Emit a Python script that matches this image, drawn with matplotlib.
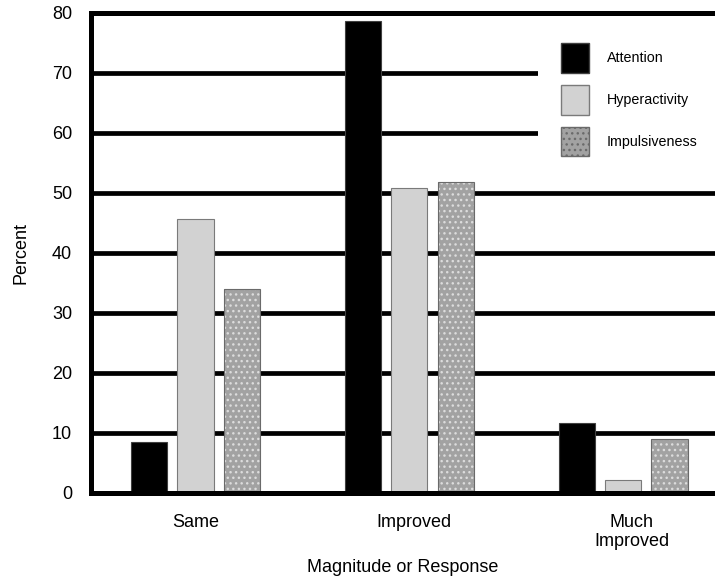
import numpy as np
import matplotlib.pyplot as plt
from matplotlib.patches import Patch, Rectangle

plt.rcParams['font.family'] = ['Liberation Sans', 'DejaVu Sans']

categories = ['Same', 'Improved', 'Much\nImproved']
series = ['Attention', 'Hyperactivity', 'Impulsiveness']
attention = [8.5, 78.7, 11.7]
hyperactivity = [45.7, 50.8, 2.2]
impulsiveness = [34.0, 51.8, 9.0]
yticks = [0, 10, 20, 30, 40, 50, 60, 70, 80]

fig = plt.figure(figsize=(7.15, 5.81), dpi=100)
ax = fig.add_axes([0.127, 0.1515, 0.873, 0.8265])

x = np.arange(len(categories))
w = 0.17
off = 0.217

# thick horizontal rules behind the bars
for t in yticks[1:]:
    ax.axhline(t, color='black', lw=3.4, zorder=1)

# white block behind the legend hides the rules at 60 and 70
ax.add_patch(Rectangle((538 / 715, 1 - 172 / 581), 1 - 538 / 715, 150 / 581,
                       transform=fig.transFigure, facecolor='white', edgecolor='none', zorder=2))

ax.bar(x - off, attention, w, color='black', edgecolor='#404040', lw=0.8, zorder=3)
ax.bar(x, hyperactivity, w, color='#d2d2d2', edgecolor='#7a7a7a', lw=0.8, zorder=3)
# speckled texture for impulsiveness
plt.rcParams['hatch.linewidth'] = 1.0
ax.bar(x + off, impulsiveness, w, color='#a2a2a2', edgecolor='#dcdcdc', hatch='...', lw=0, zorder=3)
ax.bar(x + off, impulsiveness, w, fill=False, edgecolor='#6a6a6a', lw=0.8, zorder=4)

ax.set_xlim(-0.49, 2.43)
ax.set_ylim(0, 80)
ax.set_yticks(yticks)
ax.set_xticks([0, 1.02, 2.04])
ax.set_xticklabels(categories, fontsize=13)
ax.tick_params(axis='y', length=0, pad=13.5, labelsize=13)
ax.tick_params(axis='x', length=0, pad=15)

for s in ['left', 'bottom', 'top']:
    ax.spines[s].set_linewidth(3.6)
    ax.spines[s].set_zorder(5)
ax.spines['right'].set_visible(False)

ax.set_ylabel('Percent', fontsize=13, labelpad=16)
ax.set_xlabel('Magnitude or Response', fontsize=13, labelpad=6)

handles = [
    Patch(facecolor='black', edgecolor='#404040', label='Attention'),
    Patch(facecolor='#d2d2d2', edgecolor='#7a7a7a', label='Hyperactivity'),
    Patch(facecolor='#a2a2a2', edgecolor='#6a6a6a', hatch='...', label='Impulsiveness'),
]
leg = ax.legend(handles=handles, loc='upper left', bbox_to_anchor=(540 / 715, 1 - 22 / 581),
                bbox_transform=fig.transFigure, fontsize=10.3, frameon=False,
                borderpad=1.5, borderaxespad=0, handlelength=1.95, handleheight=2.8,
                labelspacing=0.85, handletextpad=1.2)
leg.set_zorder(6)

fig.savefig('out.png', dpi=100)
